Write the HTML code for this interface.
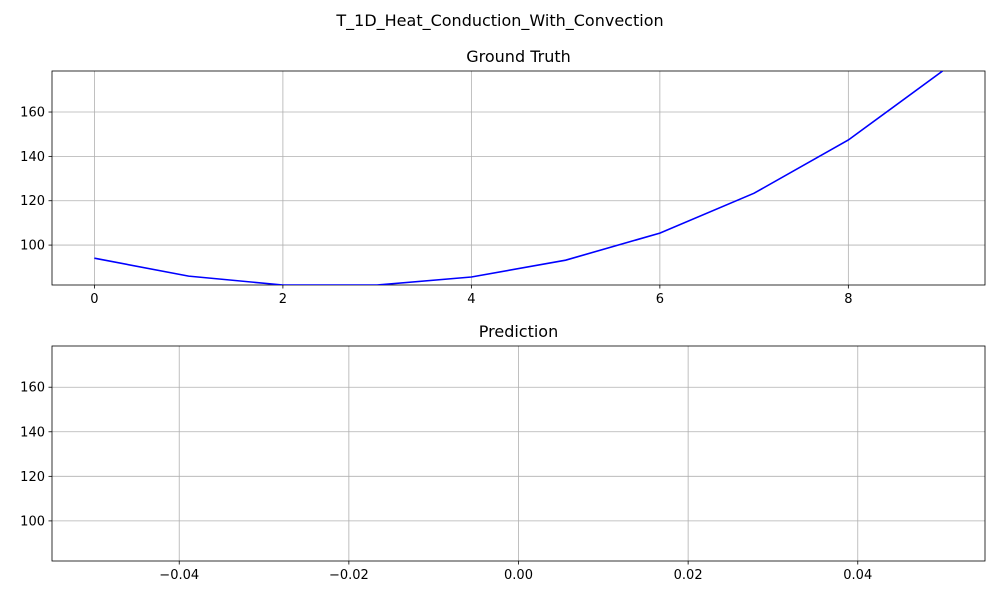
<!DOCTYPE html>
<html><head><meta charset="utf-8"><style>
body{margin:0;background:#fff;}
svg text{font-family:"DejaVu Sans","Liberation Sans",sans-serif;fill:#000;}
</style></head><body>
<svg id="chart" width="1000" height="600" xmlns="http://www.w3.org/2000/svg">
<rect width="1000" height="600" fill="#fff"/>
<text x="500" y="26" text-anchor="middle" font-size="16">T_1D_Heat_Conduction_With_Convection</text>
<g id="top"></g>
<g id="bot"></g>
</svg>
<script>
const gtX = [0,1,2,3,4,5,6,7,8,9];
const gtY = [94.1,86,82,82,85.6,93.2,105.4,123.4,147.4,178.5];
const topXTicks = [0,2,4,6,8];
const botXTicks = [-0.04,-0.02,0.00,0.02,0.04];
const botXTickLabels = ["−0.04","−0.02","0.00","0.02","0.04"];
const yTicks = [100,120,140,160];
const yLim = [82,178.5];
const NS="http://www.w3.org/2000/svg";
function mk(p,t,a){const e=document.createElementNS(NS,t);for(const k in a)e.setAttribute(k,a[k]);p.appendChild(e);return e;}
function axes(g,top,bot,xmin,xmax,xt,xl,title,nm){
  const L=52,R=985;
  const sx=v=>L+(v-xmin)/(xmax-xmin)*(R-L);
  const sy=v=>bot-(v-yLim[0])/(yLim[1]-yLim[0])*(bot-top);
  xt.forEach((v,i)=>{const x=sx(v);
    let l=mk(g,'line',{x1:x,x2:x,y1:top,y2:bot,stroke:'#b0b0b0','stroke-width':0.8});
    
    mk(g,'line',{x1:x,x2:x,y1:bot,y2:bot+3.5,stroke:'#000','stroke-width':0.8});
    let t=mk(g,'text',{x:x,y:bot+18,'text-anchor':'middle','font-size':13});t.textContent=xl[i];
    });
  yTicks.forEach(v=>{const y=sy(v);
    let l=mk(g,'line',{x1:L,x2:R,y1:y,y2:y,stroke:'#b0b0b0','stroke-width':0.8});
    
    mk(g,'line',{x1:L-3.5,x2:L,y1:y,y2:y,stroke:'#000','stroke-width':0.8});
    let t=mk(g,'text',{x:L-7,y:y+4.5,'text-anchor':'end','font-size':13});t.textContent=v;
    });
  let f=mk(g,'rect',{x:L,y:top,width:R-L,height:bot-top,fill:'none',stroke:'#000','stroke-width':0.8});
  
  let t=mk(g,'text',{x:(L+R)/2,y:top-9,'text-anchor':'middle','font-size':16});t.textContent=title;
  
  return {sx,sy,L,R,top,bot};
}
const a=axes(document.getElementById('top'),71,285,-0.45,9.45,topXTicks,topXTicks.map(String),'Ground Truth','ground-truth');
const clip=mk(document.getElementById('chart'),'clipPath',{id:'c1'});
mk(clip,'rect',{x:a.L,y:a.top,width:a.R-a.L,height:a.bot-a.top});
const pl=mk(document.getElementById('top'),'polyline',{points:gtX.map((x,i)=>a.sx(x)+','+a.sy(gtY[i])).join(' '),fill:'none',stroke:'#0000ff','stroke-width':1.6,'clip-path':'url(#c1)'});


axes(document.getElementById('bot'),346,561,-0.055,0.055,botXTicks,botXTickLabels,'Prediction','prediction');
</script>
</body></html>
